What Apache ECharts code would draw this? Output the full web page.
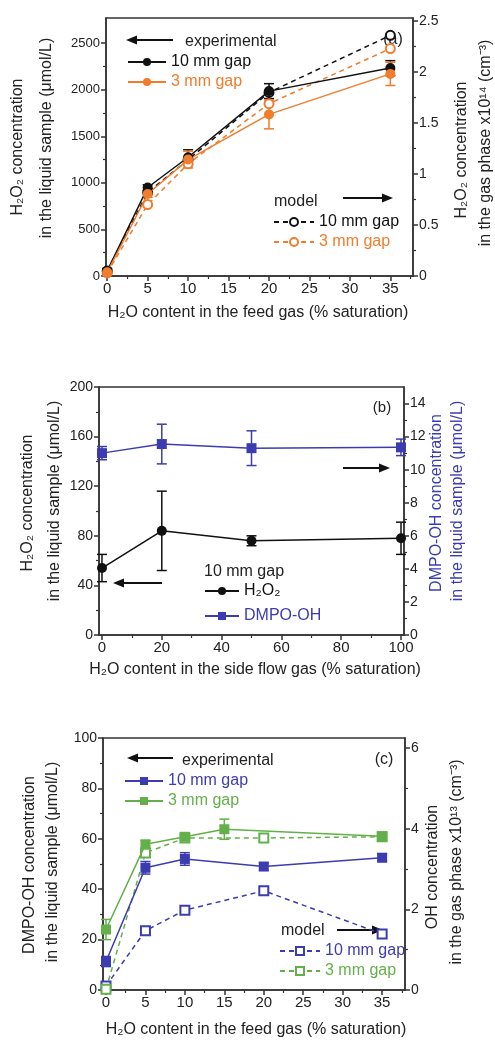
<!DOCTYPE html>
<html>
<head>
<meta charset="utf-8">
<script src="https://cdn.jsdelivr.net/npm/echarts@6/dist/echarts.min.js"></script>
<style>
  html, body { margin: 0; padding: 0; background: #fff; }
  #chart { width: 495px; height: 1040px; }
</style>
</head>
<body>
<div id="chart"></div>
<script>
// ---- data ----
// (a) H2O2 vs feed gas humidity
var feedA = [0, 5, 10, 20, 35];
var h2o2Exp10 = [55, 950, 1275, 1985, 2232];
var h2o2Err10 = [25, 30, 80, 80, 80];
var h2o2Exp3 = [40, 880, 1250, 1735, 2170];
var h2o2Err3 = [20, 35, 90, 155, 125];
var h2o2Mod10 = [0.05, 0.82, 1.14, 1.80, 2.36];
var h2o2Mod3 = [0.03, 0.70, 1.10, 1.69, 2.23];
// (b) side flow humidity, 10 mm gap
var sideB = [0, 20, 50, 100];
var h2o2Side = [54, 84, 76, 78];
var h2o2SideErr = [11, 32, 4, 13];
var dmpoSide = [11.0, 11.55, 11.3, 11.35];
var dmpoSideErr = [0.4, 1.2, 1.05, 0.5];
// (c) DMPO-OH / OH vs feed gas humidity
var feedC10 = [0, 5, 10, 20, 35];
var dmpoExp10 = [11.3, 48.5, 52, 49, 52.5];
var dmpoErr10 = [2, 2.5, 2.5, 1.5, 1.5];
var feedC3 = [0, 5, 10, 15, 35];
var dmpoExp3 = [24, 57.8, 60.8, 63.8, 61];
var dmpoErr3 = [4, 1.5, 1, 4, 1.5];
var feedCm = [0, 5, 10, 20, 35];
var ohMod10 = [0.1, 1.47, 1.98, 2.46, 1.39];
var ohMod3 = [0.02, 3.40, 3.77, 3.77, 3.80];
// tick labels (major) and minor tick positions
var feedTicks = [0, 5, 10, 15, 20, 25, 30, 35];
var feedMinor = [2.5, 7.5, 12.5, 17.5, 22.5, 27.5, 32.5, 37.5];
var sideTicks = [0, 20, 40, 60, 80, 100];
var sideMinor = [10, 30, 50, 70, 90];
var h2o2Ticks = [0, 500, 1000, 1500, 2000, 2500];
var h2o2Minor = [250, 750, 1250, 1750, 2250];
var gasTicks = [0, 0.5, 1, 1.5, 2, 2.5];
var gasMinor = [0.25, 0.75, 1.25, 1.75, 2.25];
var liqTicks = [0, 40, 80, 120, 160, 200];
var liqMinor = [20, 60, 100, 140, 180];
var dmpoTicks = [0, 2, 4, 6, 8, 10, 12, 14];
var dmpoMinor = [1, 3, 5, 7, 9, 11, 13];
var dmpoCTicks = [0, 20, 40, 60, 80, 100];
var dmpoCMinor = [10, 30, 50, 70, 90];
var ohTicks = [0, 2, 4, 6];
var ohMinor = [1, 3, 5];

var FONT = '"Liberation Sans", Arial, sans-serif';
var INK = '#222';
var BLACK = '#111';
var ORANGE = '#f07c2c';
var BLUE = '#3c3cb0';
var GREEN = '#63b04a';

var LABELS = {
  a10: '10 mm gap', a3: '3 mm gap', am10: '10 mm gap', am3: '3 mm gap',
  bh: 'H₂O₂', bd: 'DMPO-OH',
  c10: '10 mm gap', c3: '3 mm gap', cm10: '10 mm gap', cm3: '3 mm gap'
};

function pairs(xs, ys) { return xs.map(function (x, i) { return [x, ys[i]]; }); }
function triples(xs, ys, es) { return xs.map(function (x, i) { return [x, ys[i], es[i]]; }); }

function errBar(params, api) {
  var x = api.value(0), y = api.value(1), e = api.value(2);
  var hi = api.coord([x, y + e]);
  var lo = api.coord([x, y - e]);
  var hw = 5;
  var st = { stroke: api.visual('color'), lineWidth: 1.5 };
  return {
    type: 'group',
    children: [
      { type: 'line', shape: { x1: hi[0], y1: hi[1], x2: lo[0], y2: lo[1] }, style: st },
      { type: 'line', shape: { x1: hi[0] - hw, y1: hi[1], x2: hi[0] + hw, y2: hi[1] }, style: st },
      { type: 'line', shape: { x1: lo[0] - hw, y1: lo[1], x2: lo[0] + hw, y2: lo[1] }, style: st }
    ]
  };
}

function lineSeries(name, xi, yi, data, color, symbol, dashed) {
  return {
    type: 'line', name: name, xAxisIndex: xi, yAxisIndex: yi, data: data,
    symbol: symbol, symbolSize: symbol.indexOf('empty') === 0 ? 9 : 10,
    lineStyle: { color: color, width: 1.5, type: dashed ? [5, 4] : 'solid' },
    itemStyle: { color: color, borderWidth: 1.5 },
    z: dashed ? 3 : 4
  };
}
function errSeries(xi, yi, data, color) {
  return {
    type: 'custom', xAxisIndex: xi, yAxisIndex: yi, data: data,
    renderItem: errBar, itemStyle: { color: color }, encode: { x: 0, y: 1 }, z: 2, silent: true
  };
}

function plain(v) { return String(v); }

// main axis: line, major ticks, labels; minor axis: short ticks only
function axisMain(kind, grid, pos, min, max, ticks, fs) {
  return {
    type: 'value', gridIndex: grid, position: pos, min: min, max: max,
    axisLine: { show: true, onZero: false, lineStyle: { color: '#333', width: 1.5 } },
    axisTick: { show: true, length: 5, customValues: ticks, lineStyle: { color: '#333', width: 1.5 } },
    axisLabel: { customValues: ticks, formatter: plain, margin: kind === 'x' ? 5 : 6, fontSize: fs, fontFamily: FONT, color: INK },
    splitLine: { show: false }
  };
}
function axisMinor(grid, pos, min, max, ticks) {
  return {
    type: 'value', gridIndex: grid, position: pos, min: min, max: max,
    axisLine: { show: false, onZero: false },
    axisTick: { show: true, length: 3, customValues: ticks, lineStyle: { color: '#333', width: 1.2 } },
    axisLabel: { show: false },
    splitLine: { show: false }
  };
}

function legend(left, top, iw, gap, items) {
  return {
    left: left, top: top, orient: 'vertical', itemWidth: iw, itemHeight: 10, itemGap: gap,
    selectedMode: false, padding: 0,
    textStyle: { fontSize: 16, fontFamily: FONT, lineHeight: 16 },
    formatter: function (n) { return LABELS[n]; },
    data: items.map(function (it) { return { name: it[0], textStyle: { color: it[1] } }; })
  };
}

function txt(x, y, s, opt) {
  opt = opt || {};
  return {
    type: 'text', x: x, y: y, rotation: opt.rot || 0, silent: true,
    style: {
      text: s, fontSize: opt.size || 16, fontFamily: FONT, fill: opt.color || INK,
      align: opt.align || 'left', verticalAlign: 'middle'
    }
  };
}
function arrow(x1, x2, y) {
  var d = x2 > x1 ? 1 : -1;
  return [
    { type: 'line', silent: true, shape: { x1: x1, y1: y, x2: x2 - d * 8, y2: y }, style: { stroke: BLACK, lineWidth: 2 } },
    { type: 'polygon', silent: true, shape: { points: [[x2, y], [x2 - d * 11, y - 4.5], [x2 - d * 11, y + 4.5]] }, style: { fill: BLACK } }
  ];
}
var R = Math.PI / 2;

var graphics = [].concat(
  // (a)
  arrow(173, 126, 40), [txt(185, 42, 'experimental'), txt(393, 40, '(a)', { align: 'center' }), txt(274, 202, 'model')],
  arrow(343, 393, 198),
  [
    txt(18, 147, 'H₂O₂ concentration', { rot: R, align: 'center' }),
    txt(47, 138, 'in the liquid sample (μmol/L)', { rot: R, align: 'center' }),
    txt(462, 150, 'H₂O₂ concentration', { rot: R, align: 'center' }),
    txt(486, 143, 'in the gas phase x10¹⁴ (cm⁻³)', { rot: R, align: 'center' }),
    txt(258, 313, 'H₂O content in the feed gas (% saturation)', { align: 'center' })
  ],
  // (b)
  [txt(382, 408, '(b)', { align: 'center', size: 15 }), txt(204, 572, '10 mm gap')],
  arrow(343, 390, 468), arrow(162, 113, 583),
  [
    txt(28, 503, 'H₂O₂ concentration', { rot: R, align: 'center' }),
    txt(55, 501, 'in the liquid sample (μmol/L)', { rot: R, align: 'center' }),
    txt(437, 503, 'DMPO-OH concentration', { rot: R, align: 'center', color: BLUE }),
    txt(458, 501, 'in the liquid sample (μmol/L)', { rot: R, align: 'center', color: BLUE }),
    txt(255, 670, 'H₂O content in the side flow gas (% saturation)', { align: 'center' })
  ],
  // (c)
  arrow(173, 127, 758), [txt(182, 761, 'experimental'), txt(384, 760, '(c)', { align: 'center' }), txt(281, 931, 'model')],
  arrow(337, 383, 930),
  [
    txt(30, 865, 'DMPO-OH concentration', { rot: R, align: 'center' }),
    txt(53, 862, 'in the liquid sample (μmol/L)', { rot: R, align: 'center' }),
    txt(433, 867, 'OH concentration', { rot: R, align: 'center' }),
    txt(457, 862, 'in the gas phase x10¹³ (cm⁻³)', { rot: R, align: 'center' }),
    txt(256, 1030, 'H₂O content in the feed gas (% saturation)', { align: 'center' })
  ]
);

var gridStyle = { show: true, borderColor: '#333', borderWidth: 1.5, backgroundColor: 'transparent', outerBoundsMode: 'none' };

var option = {
  animation: false,
  backgroundColor: '#fff',
  grid: [
    Object.assign({ left: 106, top: 18, width: 307, height: 258 }, gridStyle),
    Object.assign({ left: 99, top: 387, width: 305, height: 248 }, gridStyle),
    Object.assign({ left: 103, top: 738, width: 302, height: 252 }, gridStyle)
  ],
  xAxis: [
    axisMain('x', 0, 'bottom', -0.15, 37.8, feedTicks, 15),
    axisMain('x', 1, 'bottom', -1, 101, sideTicks, 15),
    axisMain('x', 2, 'bottom', -0.38, 37.9, feedTicks, 15),
    axisMinor(0, 'bottom', -0.15, 37.8, feedMinor),
    axisMinor(1, 'bottom', -1, 101, sideMinor),
    axisMinor(2, 'bottom', -0.38, 37.9, feedMinor)
  ],
  yAxis: [
    axisMain('y', 0, 'left', 0, 2770, h2o2Ticks, 13),
    axisMain('y', 0, 'right', 0, 2.53, gasTicks, 14),
    axisMain('y', 1, 'left', 0, 200, liqTicks, 14),
    axisMain('y', 1, 'right', 0, 15, dmpoTicks, 14),
    axisMain('y', 2, 'left', 0, 100, dmpoCTicks, 14),
    axisMain('y', 2, 'right', 0, 6.25, ohTicks, 14),
    axisMinor(0, 'left', 0, 2770, h2o2Minor),
    axisMinor(0, 'right', 0, 2.53, gasMinor),
    axisMinor(1, 'left', 0, 200, liqMinor),
    axisMinor(1, 'right', 0, 15, dmpoMinor),
    axisMinor(2, 'left', 0, 100, dmpoCMinor),
    axisMinor(2, 'right', 0, 6.25, ohMinor)
  ],
  legend: [
    legend(127, 54, 38, 4, [['a10', BLACK], ['a3', ORANGE]]),
    legend(273, 214, 40, 4, [['am10', BLACK], ['am3', ORANGE]]),
    legend(204, 583, 34, 9, [['bh', BLACK], ['bd', BLUE]]),
    legend(124, 773, 38, 4, [['c10', BLUE], ['c3', GREEN]]),
    legend(279, 943, 40, 4, [['cm10', BLUE], ['cm3', GREEN]])
  ],
  graphic: graphics,
  series: [
    // (a)
    errSeries(0, 0, triples(feedA, h2o2Exp10, h2o2Err10), BLACK),
    errSeries(0, 0, triples(feedA, h2o2Exp3, h2o2Err3), ORANGE),
    lineSeries('a10', 0, 0, pairs(feedA, h2o2Exp10), BLACK, 'circle', false),
    lineSeries('a3', 0, 0, pairs(feedA, h2o2Exp3), ORANGE, 'circle', false),
    lineSeries('am10', 0, 1, pairs(feedA, h2o2Mod10), BLACK, 'emptyCircle', true),
    lineSeries('am3', 0, 1, pairs(feedA, h2o2Mod3), ORANGE, 'emptyCircle', true),
    // (b)
    errSeries(1, 2, triples(sideB, h2o2Side, h2o2SideErr), BLACK),
    errSeries(1, 3, triples(sideB, dmpoSide, dmpoSideErr), BLUE),
    lineSeries('bh', 1, 2, pairs(sideB, h2o2Side), BLACK, 'circle', false),
    lineSeries('bd', 1, 3, pairs(sideB, dmpoSide), BLUE, 'rect', false),
    // (c)
    errSeries(2, 4, triples(feedC10, dmpoExp10, dmpoErr10), BLUE),
    errSeries(2, 4, triples(feedC3, dmpoExp3, dmpoErr3), GREEN),
    lineSeries('c10', 2, 4, pairs(feedC10, dmpoExp10), BLUE, 'rect', false),
    lineSeries('c3', 2, 4, pairs(feedC3, dmpoExp3), GREEN, 'rect', false),
    lineSeries('cm10', 2, 5, pairs(feedCm, ohMod10), BLUE, 'emptyRect', true),
    lineSeries('cm3', 2, 5, pairs(feedCm, ohMod3), GREEN, 'emptyRect', true)
  ]
};

var chart = echarts.init(document.getElementById('chart'), null, { renderer: 'canvas' });
chart.setOption(option);
</script>
</body>
</html>
